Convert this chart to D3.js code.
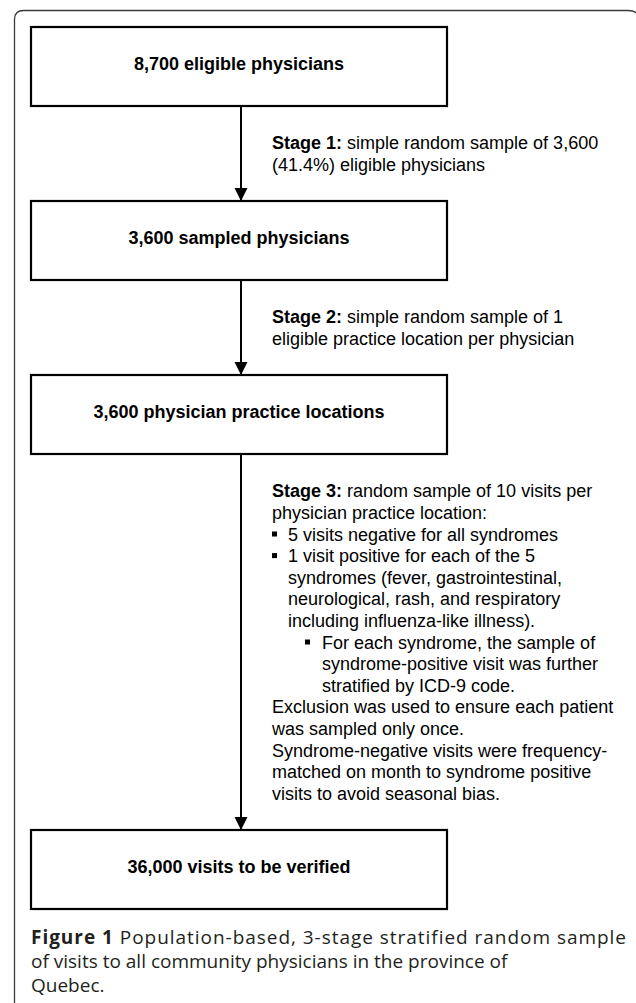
<!DOCTYPE html>
<html>
<head>
<meta charset="utf-8">
<script src="https://cdn.jsdelivr.net/npm/d3@7"></script>
<style>
  html, body { margin: 0; padding: 0; background: #fff; }
  svg { display: block; }
</style>
</head>
<body>
<svg id="chart" width="636" height="1003"></svg>
<script>
// ---- data ----
const boxLabels = [
  "8,700 eligible physicians",
  "3,600 sampled physicians",
  "3,600 physician practice locations",
  "36,000 visits to be verified"
];
const stageLabels = ["Stage 1:", "Stage 2:", "Stage 3:"];
// each line: [indent level, bullet?, text]
const stage1Lines = [
  [0, false, "simple random sample of 3,600"],
  [0, false, "(41.4%) eligible physicians"]
];
const stage2Lines = [
  [0, false, "simple random sample of 1"],
  [0, false, "eligible practice location per physician"]
];
const stage3Lines = [
  [0, false, "random sample of 10 visits per"],
  [0, false, "physician practice location:"],
  [1, true,  "5 visits negative for all syndromes"],
  [1, true,  "1 visit positive for each of the 5"],
  [1, false, "syndromes (fever, gastrointestinal,"],
  [1, false, "neurological, rash, and respiratory"],
  [1, false, "including influenza-like illness)."],
  [2, true,  "For each syndrome, the sample of"],
  [2, false, "syndrome-positive visit was further"],
  [2, false, "stratified by ICD-9 code."],
  [0, false, "Exclusion was used to ensure each patient"],
  [0, false, "was sampled only once."],
  [0, false, "Syndrome-negative visits were frequency-"],
  [0, false, "matched on month to syndrome positive"],
  [0, false, "visits to avoid seasonal bias."]
];
const stageLines = [stage1Lines, stage2Lines, stage3Lines];
const captionBold = "Figure 1";
const captionLines = [
  " Population-based, 3-stage stratified random sample",
  "of visits to all community physicians in the province of",
  "Quebec."
];

// ---- layout ----
const svg = d3.select("#chart");
const boxX = 31, boxW = 416, boxH = 79;
const boxTops = [27, 201, 375, 830];
const arrowX = 241;
const indentX = d3.scaleOrdinal().domain([0, 1, 2]).range([272, 288, 322]);
const bulletX = d3.scaleOrdinal().domain([1, 2]).range([272, 305]);
const lineH = 21.6;
const bodyFont = "'Liberation Sans', Arial, Helvetica, sans-serif";

// outer frame
svg.append("path")
  .attr("d", "M14.5,1003 V19.5 Q14.5,10.5 23.5,10.5 H628 Q640,10.5 640,22 V1003")
  .attr("fill", "none")
  .attr("stroke", "#3a3a3a")
  .attr("stroke-width", 1.3);

// arrow marker
const defs = svg.append("defs");
defs.append("marker")
  .attr("id", "ah")
  .attr("viewBox", "0 0 13 14")
  .attr("refX", 13).attr("refY", 6.5)
  .attr("markerWidth", 13).attr("markerHeight", 14)
  .attr("markerUnits", "userSpaceOnUse")
  .attr("orient", "auto")
  .append("path")
  .attr("d", "M0,0 L13,6.5 L0,13 Z")
  .attr("fill", "#000");

// arrows between boxes
const arrows = d3.range(boxTops.length - 1).map(i => ({
  y1: boxTops[i] + boxH,
  y2: boxTops[i + 1]
}));
svg.selectAll("line.arrow").data(arrows).enter()
  .append("line")
  .attr("class", "arrow")
  .attr("x1", arrowX).attr("x2", arrowX)
  .attr("y1", d => d.y1).attr("y2", d => d.y2)
  .attr("stroke", "#000").attr("stroke-width", 2)
  .attr("marker-end", "url(#ah)");

// boxes
const boxes = svg.selectAll("g.box").data(boxLabels).enter()
  .append("g").attr("class", "box");
boxes.append("rect")
  .attr("x", boxX).attr("y", (d, i) => boxTops[i])
  .attr("width", boxW).attr("height", boxH)
  .attr("fill", "#fff").attr("stroke", "#000").attr("stroke-width", 2.2);
boxes.append("text")
  .attr("x", boxX + boxW / 2)
  .attr("y", (d, i) => boxTops[i] + 42.5)
  .attr("text-anchor", "middle")
  .attr("font-family", bodyFont)
  .attr("font-weight", "bold")
  .attr("font-size", 18)
  .attr("fill", "#000")
  .text(d => d);

// stage texts, centred vertically between boxes
stageLines.forEach((lines, s) => {
  const mid = (arrows[s].y1 + arrows[s].y2) / 2;
  const firstCenter = mid - (lines.length - 1) * lineH / 2;
  const g = svg.append("g");
  lines.forEach((ln, i) => {
    const [lvl, bullet, txt] = ln;
    const cy = firstCenter + i * lineH;
    const base = cy + 6.5;
    if (bullet) {
      g.append("rect")
        .attr("x", bulletX(lvl)).attr("y", cy - 2.5)
        .attr("width", 5).attr("height", 5)
        .attr("fill", "#000");
    }
    const t = g.append("text")
      .attr("x", indentX(lvl)).attr("y", base)
      .attr("font-family", bodyFont)
      .attr("font-size", 18)
      .attr("fill", "#000");
    if (i === 0) {
      t.append("tspan").attr("font-weight", "bold").text(stageLabels[s]);
      t.append("tspan").text(" " + txt);
    } else {
      t.text(txt);
    }
  });
});

// caption (first line justified to full width)
const capFont = "'Open Sans', 'Noto Sans', sans-serif";
const capBase = [944, 968, 992];
const capLeft = 31, capRight = 626;
captionLines.forEach((ln, i) => {
  const t = svg.append("text")
    .attr("x", capLeft).attr("y", capBase[i])
    .attr("font-family", capFont)
    .attr("font-size", 19)
    .attr("fill", "#231f20");
  if (i === 0) {
    t.append("tspan").attr("font-weight", "bold").text(captionBold);
  }
  t.append("tspan").text(ln);
  if (i === 0) {
    const natural = t.node().getComputedTextLength();
    const full = captionBold + ln;
    const extra = (capRight - capLeft - natural) / (full.length - 1);
    if (extra > 0) t.attr("letter-spacing", extra);
  }
});
</script>
</body>
</html>
